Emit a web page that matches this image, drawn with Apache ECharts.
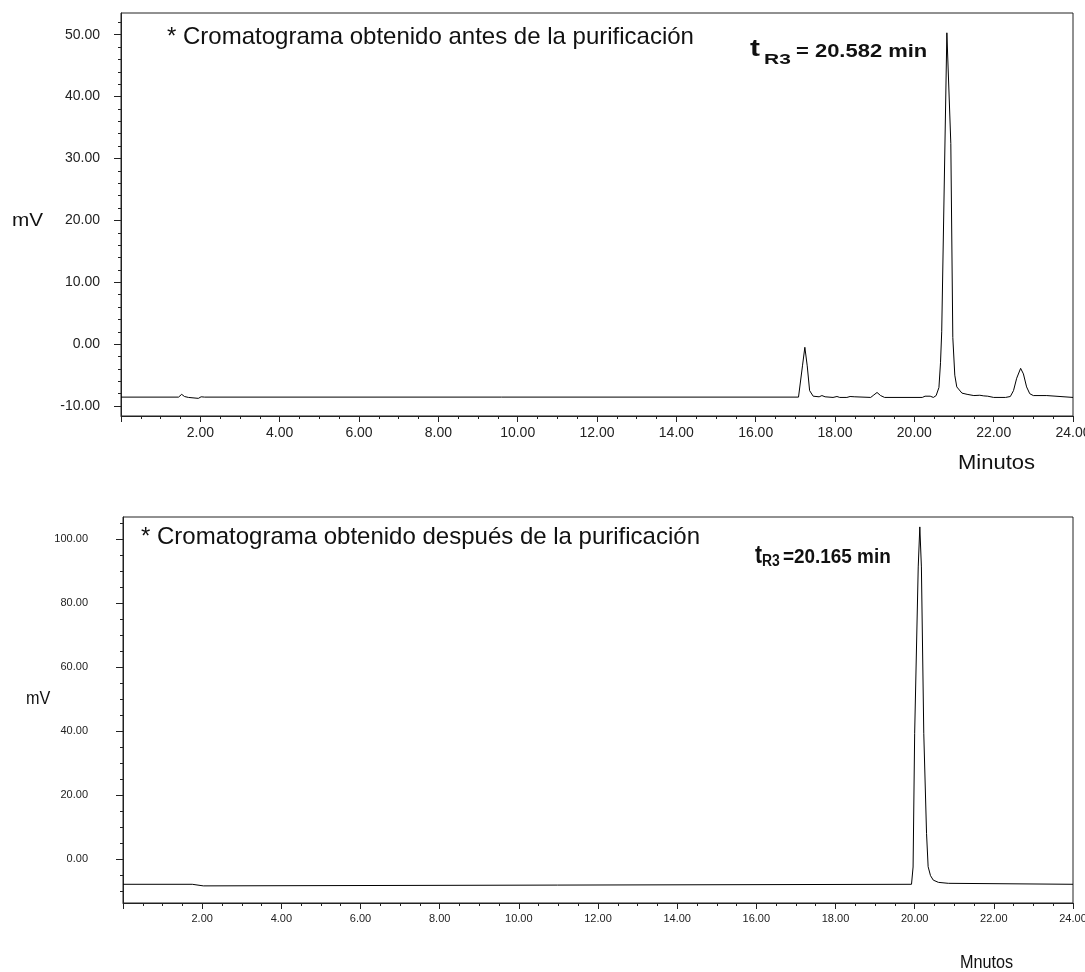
<!DOCTYPE html>
<html><head><meta charset="utf-8">
<script src="https://cdn.jsdelivr.net/npm/echarts@6/dist/echarts.min.js"></script>
<style>html,body{margin:0;padding:0;background:#fff;overflow:hidden}#c{width:1085px;height:972px}</style>
</head><body><div id="c"></div>
<script>
// Top chromatogram (before purification)
const timeBefore = [0, 1.45, 1.53, 1.60, 1.70, 1.75, 1.95, 2.02, 2.06, 2.11, 17.08, 17.12, 17.18, 17.24, 17.30, 17.36, 17.45, 17.60, 17.67, 17.75, 17.95, 18.05, 18.12, 18.30, 18.38, 18.50, 18.55, 18.90, 18.98, 19.06, 19.15, 19.25, 20.20, 20.27, 20.40, 20.48, 20.55, 20.62, 20.66, 20.69, 20.82, 20.92, 20.97, 21.02, 21.07, 21.20, 21.33, 21.50, 21.65, 21.75, 21.85, 22.00, 22.30, 22.42, 22.50, 22.58, 22.68, 22.75, 22.83, 22.91, 23.00, 23.34, 23.37, 24];
const mvBefore   = [-8.55, -8.55, -8.1, -8.45, -8.6, -8.75, -8.75, -8.5, -8.3, -8.55, -8.55, -8.3, -3.5, -0.5, -3.5, -7.5, -8.4, -8.5, -8.3, -8.5, -8.6, -8.45, -8.6, -8.6, -8.45, -8.5, -8.6, -8.6, -8.2, -7.8, -8.3, -8.6, -8.6, -8.4, -8.4, -8.6, -8.3, -7.0, -3.0, 2.0, 50.3, 32.4, 1.1, -5.0, -6.9, -7.9, -8.1, -8.3, -8.25, -8.35, -8.4, -8.6, -8.6, -8.45, -7.5, -5.5, -3.9, -4.8, -6.9, -8.0, -8.3, -8.3, -8.6, -8.6];
// Bottom chromatogram (after purification)
const timeAfter = [0, 1.75, 1.78, 2.03, 2.06, 19.92, 19.96, 20.00, 20.09, 20.13, 20.17, 20.23, 20.30, 20.34, 20.40, 20.47, 20.60, 20.85, 20.88, 24];
const mvAfter   = [-7.9, -7.9, -8.4, -8.4, -7.9, -7.9, -2.5, 39.3, 91.3, 103.8, 91.3, 39.3, 8.0, -2.4, -5.2, -6.6, -7.3, -7.6, -7.9, -7.9];

// Axis extents and ticks
const xMin = 0, xMax = 24, xStep = 2;
const yTopMin = -11.6, yTopMax = 53.5;
const yTopMajor = [-10, 0, 10, 20, 30, 40, 50];
const yTopMinor = [-10, -8, -6, -4, -2, 0, 2, 4, 6, 8, 10, 12, 14, 16, 18, 20, 22, 24, 26, 28, 30, 32, 34, 36, 38, 40, 42, 44, 46, 48, 50, 52];
const yBotMin = -13.75, yBotMax = 106.9;
const yBotMajor = [0, 20, 40, 60, 80, 100];
const yBotMinor = [-10, -5, 0, 5, 10, 15, 20, 25, 30, 35, 40, 45, 50, 55, 60, 65, 70, 75, 80, 85, 90, 95, 100, 105];

const titleBefore = '* Cromatograma obtenido antes de la purificación';
const titleAfter = '* Cromatograma obtenido después de la purificación';
const yName = 'mV';
const xNameTop = 'Minutos';
const xNameBottom = 'Mnutos';
const tLabelTop = ['t', 'R3', '= 20.582 min'];
const tLabelBottom = ['t', 'R3', '=20.165 min'];

const pairs = (xs, ys) => xs.map((x, i) => [x, ys[i]]);
const AX = '#222';
const SANS = "'Liberation Sans', Arial, sans-serif";

function xAxisCfg(gi, size) {
  return {
    gridIndex: gi, type: 'value', min: xMin, max: xMax, interval: xStep,
    axisLine: {show: true, onZero: false, lineStyle: {color: AX, width: 1}},
    axisTick: {show: true, length: 6, lineStyle: {color: AX}},
    minorTick: {show: true, splitNumber: 4, length: 3, lineStyle: {color: AX}},
    splitLine: {show: false}, minorSplitLine: {show: false},
    axisLabel: {formatter: v => v.toFixed(2), showMinLabel: false, fontFamily: SANS, fontSize: size, color: '#222', margin: 10}
  };
}
function yMajorCfg(gi, mn, mx, major, size, margin) {
  return {
    gridIndex: gi, type: 'value', min: mn, max: mx, position: 'left',
    axisLine: {show: true, onZero: false, lineStyle: {color: AX, width: 1}},
    axisTick: {show: true, length: 7, customValues: major, lineStyle: {color: AX}},
    minorTick: {show: false},
    splitLine: {show: false}, minorSplitLine: {show: false},
    axisLabel: {customValues: major, formatter: v => Number(v).toFixed(2),
      fontFamily: SANS, fontSize: size, color: '#222', margin: margin}
  };
}
function yMinorCfg(gi, mn, mx, minor) {
  return {
    gridIndex: gi, type: 'value', min: mn, max: mx, position: 'left', offset: 0,
    axisLine: {show: false, onZero: false},
    axisTick: {show: true, length: 3, customValues: minor, lineStyle: {color: AX}},
    minorTick: {show: false},
    splitLine: {show: false}, minorSplitLine: {show: false},
    axisLabel: {show: false}
  };
}
function txt(x, y, text, size, weight, sx, align) {
  return {type: 'text', x: x, y: y, scaleX: sx || 1, silent: true,
    style: {text: text, fontFamily: SANS, fontSize: size, fontWeight: weight || 'normal', fill: '#111',
      textAlign: align || 'left', textVerticalAlign: 'middle'}};
}

const chart = echarts.init(document.getElementById('c'), null, {renderer: 'canvas'});
chart.setOption({
  animation: false,
  backgroundColor: '#fff',
  grid: [
    {left: 121, top: 13, right: 12, height: 403, outerBoundsMode: 'none', containLabel: false,
      show: true, borderColor: AX, borderWidth: 1, backgroundColor: 'transparent'},
    {left: 123, top: 517, right: 12, height: 386, outerBoundsMode: 'none', containLabel: false,
      show: true, borderColor: AX, borderWidth: 1, backgroundColor: 'transparent'}
  ],
  xAxis: [xAxisCfg(0, 14), xAxisCfg(1, 11)],
  yAxis: [
    yMajorCfg(0, yTopMin, yTopMax, yTopMajor, 14, 21),
    yMajorCfg(1, yBotMin, yBotMax, yBotMajor, 11, 35),
    yMinorCfg(0, yTopMin, yTopMax, yTopMinor),
    yMinorCfg(1, yBotMin, yBotMax, yBotMinor)
  ],
  series: [
    {type: 'line', xAxisIndex: 0, yAxisIndex: 0, data: pairs(timeBefore, mvBefore), showSymbol: false, symbol: 'none',
      lineStyle: {color: '#000', width: 1}},
    {type: 'line', xAxisIndex: 1, yAxisIndex: 1, data: pairs(timeAfter, mvAfter), showSymbol: false, symbol: 'none',
      lineStyle: {color: '#000', width: 1}}
  ],
  graphic: [
    txt(167, 37, titleBefore, 24),
    txt(750, 50, tLabelTop[0], 23, 'bold', 1.3),
    txt(764, 60, tLabelTop[1], 14, 'bold', 1.5),
    txt(796, 52, tLabelTop[2], 18, 'bold', 1.22),
    txt(12, 221, yName, 18, 'normal', 1.15),
    txt(958, 463, xNameTop, 20, 'normal', 1.1),
    txt(141, 537, titleAfter, 24),
    txt(755, 556, tLabelBottom[0], 25, 'bold', 0.85),
    txt(762, 562, tLabelBottom[1], 16, 'bold', 0.87),
    txt(783, 557, tLabelBottom[2], 21, 'bold', 0.9),
    txt(26, 699, yName, 18, 'normal', 0.9),
    txt(960, 963, xNameBottom, 18, 'normal', 0.9)
  ]
});
</script>
</body></html>
